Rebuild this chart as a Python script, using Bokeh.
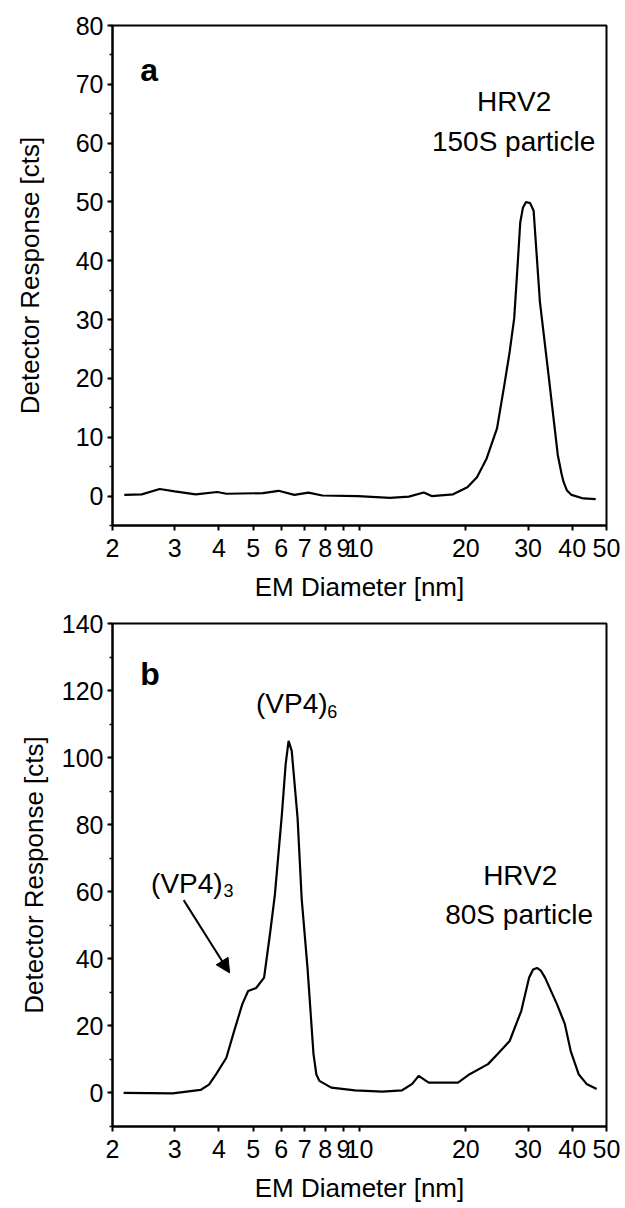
from bokeh.plotting import figure
from bokeh.models import (Range1d, FixedTicker, SingleIntervalTicker,
                          CustomJSTickFormatter, Label, Arrow, NormalHead)
from bokeh.layouts import column
from bokeh.embed import file_html
from bokeh.resources import INLINE

# ---------------- data ----------------
x_ticks = [2, 3, 4, 5, 6, 7, 8, 9, 10, 20, 30, 40, 50]

# panel a : HRV2 150S particle
a_diam = [2.16, 2.42, 2.72, 3.0, 3.44, 3.96, 4.2, 5.33, 5.9, 6.54, 7.17, 7.85,
          9.9, 12.2, 13.8, 15.2, 16.0, 18.4, 20.2, 21.5, 22.9, 24.5, 25.7,
          26.6, 27.4, 28.0, 28.5, 29.0, 29.6, 30.4, 31.1, 32.4, 34.1, 36.4,
          37.3, 37.8, 38.6, 39.8, 43.0, 46.6]
a_resp = [0.2, 0.3, 1.2, 0.8, 0.3, 0.7, 0.4, 0.5, 0.9, 0.2, 0.6, 0.1,
          0.0, -0.3, -0.1, 0.6, 0.0, 0.3, 1.5, 3.2, 6.4, 11.5, 18.9,
          24.5, 30.2, 39.0, 46.5, 49.0, 50.0, 49.8, 48.5, 33.0, 21.7, 7.0,
          3.8, 2.4, 1.0, 0.2, -0.4, -0.5]

# panel b : HRV2 80S particle with VP4 oligomers
b_diam = [2.15, 2.96, 3.55, 3.75, 3.93, 4.20, 4.42, 4.66, 4.84, 5.10, 5.37,
          5.58, 5.76, 6.03, 6.18, 6.30, 6.43, 6.68, 6.86, 7.13, 7.41, 7.55,
          7.70, 8.32, 9.71, 11.6, 13.2, 14.1, 14.7, 15.7, 17.2, 19.0, 20.5,
          23.1, 24.6, 26.6, 28.7, 30.2, 31.0, 31.8, 32.6, 33.5, 36.2, 38.1,
          39.6, 41.7, 43.9, 46.9]
b_resp = [0.0, -0.1, 0.9, 2.5, 5.6, 10.5, 18.5, 26.5, 30.4, 31.3, 34.4,
          47.4, 59.0, 83.0, 98.0, 105.0, 102.0, 82.0, 58.0, 37.0, 11.6, 5.5,
          3.6, 1.6, 0.8, 0.4, 0.8, 2.7, 5.1, 3.1, 3.1, 3.1, 5.6,
          8.6, 11.6, 15.5, 24.5, 34.4, 36.8, 37.3, 36.5, 34.4, 26.5, 20.6,
          12.5, 5.6, 2.7, 1.2]

FONT = "Liberation Sans"


def make_panel(height, y0, y1, y_step, bl, br, bt, bb, ylab_standoff, xlab_standoff):
    p = figure(width=625, height=height, x_axis_type="log",
               x_range=Range1d(2, 50), y_range=Range1d(y0, y1),
               output_backend="svg", toolbar_location=None,
               min_border_left=bl, min_border_right=br,
               min_border_top=bt, min_border_bottom=bb)
    p.background_fill_color = "white"
    p.border_fill_color = "white"
    p.outline_line_color = "black"
    p.outline_line_width = 2
    p.xgrid.visible = False
    p.ygrid.visible = False

    p.xaxis.ticker = FixedTicker(ticks=x_ticks, minor_ticks=[])
    p.xaxis.formatter = CustomJSTickFormatter(code="return tick.toFixed(0);")
    p.yaxis.ticker = SingleIntervalTicker(interval=y_step, num_minor_ticks=2)

    for ax in (p.xaxis[0], p.yaxis[0]):
        ax.axis_line_color = "black"
        ax.axis_line_width = 2
        ax.major_tick_line_color = "black"
        ax.major_tick_line_width = 2
        ax.major_tick_in = 0
        ax.major_tick_out = 5
        ax.minor_tick_line_color = "black"
        ax.minor_tick_line_width = 1.5
        ax.minor_tick_in = 0
        ax.minor_tick_out = 3
        ax.major_label_text_font = FONT
        ax.major_label_text_font_size = "25px"
        ax.major_label_text_color = "black"
        ax.axis_label_text_font = FONT
        ax.axis_label_text_font_size = "26px"
        ax.axis_label_text_font_style = "normal"
        ax.axis_label_text_color = "black"
    p.yaxis.major_label_standoff = 4
    p.xaxis.major_label_standoff = 8
    p.yaxis.axis_label = "Detector Response [cts]"
    p.xaxis.axis_label = "EM Diameter [nm]"
    p.yaxis.axis_label_standoff = ylab_standoff
    p.xaxis.axis_label_standoff = xlab_standoff
    return p


def add_text(p, x, y, text, size="28px", style="normal", align="left"):
    p.add_layout(Label(x=x, y=y, text=text, text_font=FONT,
                       text_font_size=size, text_font_style=style,
                       text_color="black", text_align=align,
                       text_baseline="alphabetic"))


# ---------------- panel a ----------------
pa = make_panel(608, -5, 80, 10, 112, 14, 25, 83, 28, 12)
pa.line(a_diam, a_resp, line_color="black", line_width=2.2)
add_text(pa, 2.396, 72.5, "a", size="32px", style="bold")
add_text(pa, 27.4, 67.0, "HRV2", align="center")
add_text(pa, 27.3, 60.3, "150S particle", align="center")

# ---------------- panel b ----------------
pb = make_panel(600, -10, 140, 20, 107, 19, 15, 82, 10, 12)
pb.line(b_diam, b_resp, line_color="black", line_width=2.2)
add_text(pb, 2.396, 125.0, "b", size="32px", style="bold")
add_text(pb, 5.095, 116.0, "(VP4)")
add_text(pb, 8.11, 113.8, "6", size="18px")
add_text(pb, 2.572, 62.5, "(VP4)")
add_text(pb, 4.12, 60.4, "3", size="18px")
add_text(pb, 28.5, 65.0, "HRV2", align="center")
add_text(pb, 28.3, 53.3, "80S particle", align="center")
pb.add_layout(Arrow(end=NormalHead(size=14, fill_color="black",
                                   line_color="black", line_width=1),
                    x_start=3.18, y_start=57.5, x_end=4.29, y_end=35.8,
                    line_color="black", line_width=2))

layout = column(pa, pb, spacing=0)
open("out.html", "w").write(file_html(layout, INLINE))
